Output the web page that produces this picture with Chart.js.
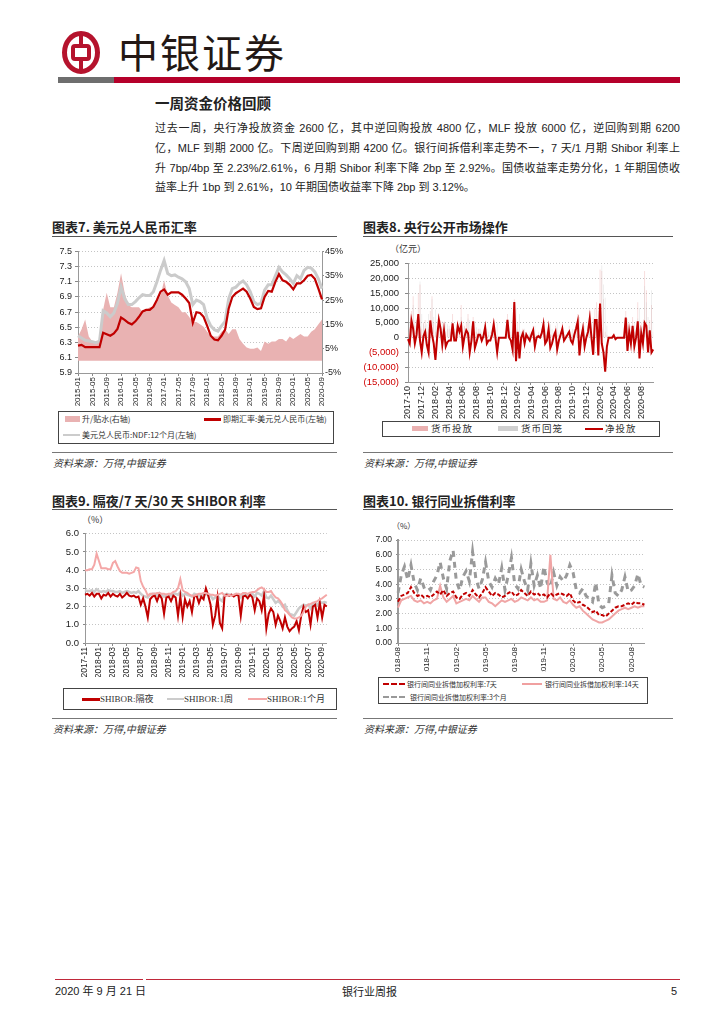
<!DOCTYPE html>
<html lang="zh-CN">
<head>
<meta charset="utf-8">
<script src="https://cdn.jsdelivr.net/npm/chart.js@4.4.0/dist/chart.umd.min.js"></script>
<style>
html, body { margin: 0; padding: 0; background: #fff; }
#page { position: relative; width: 724px; height: 1024px; overflow: hidden; font-family: "Noto Sans CJK SC", sans-serif; color: #222; }
#page div, #page span, #page canvas, #page svg { position: absolute; }
.title { font-size: 13px; font-weight: 700; white-space: nowrap; line-height: 16px; }
.rule { height: 0; border-top: 1px solid #555; }
.src { font-size: 10px; font-style: italic; color: #333; white-space: nowrap; line-height: 12px; }
.legend { border: 1px solid #444; box-sizing: border-box; }
.li { white-space: nowrap; font-size: 8px; line-height: 10px; color: #333; }
.unit { font-size: 9px; color: #333; white-space: nowrap; line-height: 11px; }
#para div { position: absolute; left: 0; width: 525px; height: 20px; line-height: 20px; font-size: 11px; text-align: justify; text-align-last: justify; font-family: "Liberation Sans", "Noto Sans CJK SC", sans-serif; overflow: visible; }
</style>
</head>
<body>
<div id="page">
  <!-- header -->
  <svg style="left:62px;top:31px" width="38" height="43" viewBox="0 0 38 43">
    <ellipse cx="19" cy="21.5" rx="16.5" ry="19" fill="none" stroke="#b5132d" stroke-width="5"/>
    <rect x="17" y="2" width="4" height="39" fill="#b5132d"/>
    <rect x="11" y="15" width="16" height="13" rx="2" fill="#fff" stroke="#b5132d" stroke-width="4"/>
  </svg>
  <div style="left:118px;top:27px;font-size:40px;line-height:48px;letter-spacing:2px;color:#231815;white-space:nowrap;">中银证券</div>
  <div style="left:58px;top:77px;width:56px;height:6px;background:#6e6e6e;"></div>
  <div style="left:114px;top:77px;width:566px;height:6px;background:#b5002a;"></div>

  <div style="left:155px;top:94px;font-size:14.5px;font-weight:700;line-height:18px;white-space:nowrap;">一周资金价格回顾</div>
  <div id="para" style="left:155px;top:118px;width:525px;height:80px;">
    <div style="top:0px">过去一周，央行净投放资金 2600 亿，其中逆回购投放 4800 亿，MLF 投放 6000 亿，逆回购到期 6200</div>
    <div style="top:20px">亿，MLF 到期 2000 亿。下周逆回购到期 4200 亿。银行间拆借利率走势不一，7 天/1 月期 Shibor 利率上</div>
    <div style="top:40px">升 7bp/4bp 至 2.23%/2.61%，6 月期 Shibor 利率下降 2bp 至 2.92%。国债收益率走势分化，1 年期国债收</div>
    <div style="top:59px;text-align-last:left;">益率上升 1bp 到 2.61%，10 年期国债收益率下降 2bp 到 3.12%。</div>
  </div>

  <!-- chart 7 -->
  <div class="title" style="left:52px;top:219px;">图表7. 美元兑人民币汇率</div>
  <div class="rule" style="left:52px;top:236px;width:285px;"></div>
  <canvas id="c7" width="297" height="166" style="left:48px;top:243px;"></canvas>
  <div class="legend" style="left:58px;top:411px;width:276px;height:33px;"></div>
  <div style="left:65px;top:416px;width:15px;height:6px;background:#e9b2b2;"></div>
  <div class="li" style="left:82px;top:414px;">升/贴水(右轴)</div>
  <div style="left:204px;top:418px;width:17px;height:3px;background:#c00000;"></div>
  <div class="li" style="left:223px;top:414px;">即期汇率:美元兑人民币(左轴)</div>
  <div style="left:63px;top:434px;width:17px;height:2px;background:#cccccc;"></div>
  <div class="li" style="left:82px;top:430px;">美元兑人民币:NDF:12个月(左轴)</div>
  <div class="rule" style="left:52px;top:452px;width:285px;border-color:#777;"></div>
  <div class="src" style="left:53px;top:457px;">资料来源：万得,中银证券</div>

  <!-- chart 8 -->
  <div class="title" style="left:363px;top:219px;">图表8. 央行公开市场操作</div>
  <div class="rule" style="left:363px;top:236px;width:310px;"></div>
  <div class="unit" style="left:390px;top:243px;">（亿元）</div>
  <canvas id="c8" width="307" height="167" style="left:358px;top:252px;"></canvas>
  <div class="legend" style="left:382px;top:421px;width:278px;height:16px;"></div>
  <div style="left:412px;top:426px;width:16px;height:5px;background:#eab0b0;"></div>
  <div class="li" style="left:431px;top:423px;font-size:9.5px;line-height:11px;letter-spacing:1px;">货币投放</div>
  <div style="left:498px;top:426px;width:20px;height:5px;background:#cfcfcf;"></div>
  <div class="li" style="left:521px;top:423px;font-size:9.5px;line-height:11px;letter-spacing:1px;">货币回笼</div>
  <div style="left:585px;top:428px;width:18px;height:2px;background:#c00000;"></div>
  <div class="li" style="left:605px;top:423px;font-size:9.5px;line-height:11px;letter-spacing:1px;">净投放</div>
  <div class="rule" style="left:363px;top:452px;width:310px;border-color:#777;"></div>
  <div class="src" style="left:364px;top:457px;">资料来源：万得,中银证券</div>

  <!-- chart 9 -->
  <div class="title" style="left:52px;top:493px;">图表9. 隔夜/7 天/30 天 SHIBOR 利率</div>
  <div class="rule" style="left:52px;top:509px;width:285px;"></div>
  <div class="unit" style="left:82px;top:514px;">（%）</div>
  <canvas id="c9" width="290" height="153" style="left:48px;top:524px;"></canvas>
  <div class="legend" style="left:63px;top:688px;width:274px;height:22px;"></div>
  <div style="left:82px;top:698px;width:18px;height:3px;background:#c00000;"></div>
  <div class="li" style="left:100px;top:694px;font-size:9px;font-family:'Liberation Serif','Noto Sans CJK SC',serif;">SHIBOR:隔夜</div>
  <div style="left:167px;top:698px;width:17px;height:2px;background:#cccccc;"></div>
  <div class="li" style="left:184px;top:694px;font-size:9px;font-family:'Liberation Serif','Noto Sans CJK SC',serif;">SHIBOR:1周</div>
  <div style="left:248px;top:698px;width:19px;height:2px;background:#f4a7a7;"></div>
  <div class="li" style="left:267px;top:694px;font-size:9px;font-family:'Liberation Serif','Noto Sans CJK SC',serif;">SHIBOR:1个月</div>
  <div class="rule" style="left:52px;top:718px;width:285px;border-color:#777;"></div>
  <div class="src" style="left:53px;top:723px;">资料来源：万得,中银证券</div>

  <!-- chart 10 -->
  <div class="title" style="left:363px;top:493px;">图表10. 银行同业拆借利率</div>
  <div class="rule" style="left:363px;top:509px;width:310px;"></div>
  <div class="unit" style="left:392px;top:520px;font-size:8px;">（%）</div>
  <canvas id="c10" width="297" height="141" style="left:358px;top:531px;"></canvas>
  <div class="legend" style="left:378px;top:677px;width:270px;height:27px;"></div>
  <div style="left:383px;top:683px;width:22px;height:0;border-top:2px dashed #c00000;"></div>
  <div class="li" style="left:407px;top:679px;font-size:7px;">银行间同业拆借加权利率:7天</div>
  <div style="left:522px;top:683px;width:20px;height:1.5px;background:#f0a0a0;"></div>
  <div class="li" style="left:545px;top:679px;font-size:7px;">银行间同业拆借加权利率:14天</div>
  <div style="left:383px;top:696px;width:22px;height:0;border-top:2px dashed #999;"></div>
  <div class="li" style="left:410px;top:692px;font-size:7px;">银行间同业拆借加权利率:3个月</div>
  <div class="rule" style="left:363px;top:718px;width:310px;border-color:#777;"></div>
  <div class="src" style="left:364px;top:723px;">资料来源：万得,中银证券</div>

  <!-- footer -->
  <div style="left:55px;top:979px;width:88px;height:1px;background:#c0283a;"></div>
  <div style="left:146px;top:979px;width:534px;height:1px;background:#c0283a;"></div>
  <div style="left:55px;top:984px;font-size:11px;line-height:14px;white-space:nowrap;font-family:'Liberation Sans','Noto Sans CJK SC',sans-serif;">2020 年 9 月 21 日</div>
  <div style="left:342px;top:984px;font-size:11px;line-height:14px;white-space:nowrap;">银行业周报</div>
  <div style="left:671px;top:984px;font-size:11px;line-height:14px;font-family:'Liberation Sans',sans-serif;">5</div>
</div>

<script>
const NUM = '"Liberation Sans Narrow","Arial Narrow","Liberation Sans",sans-serif';
const RED = '#c00000';

// 图表7: monthly, 2015-01 .. 2020-09
const fxTicks = ['2015-01','2015-05','2015-09','2016-01','2016-05','2016-09','2017-01','2017-05','2017-09',
  '2018-01','2018-05','2018-09','2019-01','2019-05','2019-09','2020-01','2020-05','2020-09'];
const fxSpot = [6.26,6.27,6.24,6.24,6.24,6.24,6.24,6.43,6.41,6.39,6.42,6.48,
  6.63,6.60,6.56,6.54,6.58,6.64,6.71,6.73,6.73,6.77,6.86,6.97,
  7.00,6.93,6.96,6.96,6.96,6.93,6.88,6.82,6.56,6.70,6.69,6.64,
  6.52,6.39,6.34,6.33,6.39,6.47,6.75,6.90,6.95,6.98,7.01,6.97,
  6.88,6.77,6.74,6.75,6.90,6.98,6.97,7.10,7.20,7.12,7.10,7.06,
  7.00,7.08,7.08,7.12,7.18,7.19,7.14,7.01,6.87];
const fxNdf = [6.39,6.36,6.33,6.32,6.31,6.30,6.32,6.72,6.69,6.64,6.69,6.82,
  7.03,6.88,6.80,6.80,6.84,6.89,6.93,6.92,6.92,6.97,7.10,7.25,
  7.38,7.21,7.18,7.19,7.16,7.14,7.10,7.01,6.80,6.86,6.84,6.80,
  6.62,6.52,6.47,6.45,6.52,6.58,6.88,7.01,7.03,7.08,7.11,7.06,
  6.97,6.84,6.80,6.82,6.99,7.06,7.06,7.18,7.29,7.23,7.19,7.14,
  7.08,7.18,7.14,7.25,7.29,7.28,7.23,7.14,7.01];
const fxSwap = [10,13,17,10,8,8,7.5,21,28,22,22,28,
  36,28,23,22,22,22,20,21,22,22,24,27,
  33,27,24,23,22,20,20,18,16,16,15,14,
  12,10,10,10,12,13,11,13,13,9,7,5.5,
  5,5,5.5,4,8,7,8,8,9,9,8,10,
  9,10,11,10,10,12,13,15,17];

// 图表8: weekly slots (4 per month), 2017-10 .. 2020-09
const omoTicks = ['2017-10','2017-12','2018-02','2018-04','2018-06','2018-08','2018-10','2018-12','2019-02',
  '2019-04','2019-06','2019-08','2019-10','2019-12','2020-02','2020-04','2020-06','2020-08'];
const omoNet = [
  -500,-2000,5800,3000, -2000,1000,8000,-1000, -5000,500,2000,-2500,
  -5000,5800,1000,-2000, -7500,0,6000,3000, -2500,2500,-3000,-1500,
  -1000,-1000,4800,-1000, -1000,4000,2000,4000, -3000,500,2500,1500,
  -5000,-1000,5500,-3500, -1500,1000,1000,-1000, 500,3500,-2000,-1000,
  -1000,1000,4500,0, -5000,0,0,0, 0,0,6000,0,
  -1000,-4000,12000,-8000, 2000,-7000,0,1500, -2000,1000,0,-1000,
  1000,2500,-3000,0, 500,0,1500,4500, -2000,-1000,3000,-3500,
  -2000,500,2000,-4000, -1000,1000,3000,-1000, 0,1000,2000,-1000,
  -2000,1000,3000,5500, -6000,0,3000,-3000, 0,2000,6500,0,
  -5800,6000,6000,-6000, 11500,-2000,-5000,-11500, -3000,0,0,0,
  800,-500,0,0, 0,0,0,6800, -4500,2000,-2000,4000,
  -3000,0,5500,-7000, 1500,-2000,5000,4000, -5000,2500,-5000,-4000];
const omoInj = [
  2000,3000,9000,14000, 4000,6000,15000,18000, 3000,5000,6000,2000,
  3000,9000,14000,5000, 2000,4000,8000,6000, 3000,5000,2000,3000,
  3000,2000,8000,2000, 2000,6000,5000,11000, 2000,4000,5000,8000,
  1000,3000,7000,2000, 2000,3000,3000,1000, 2000,5000,1000,1000,
  1000,2000,6000,1000, 0,0,0,0, 0,0,8000,2000,
  1000,2000,13000,2000, 5000,1000,2000,3000, 1000,2000,1000,1000,
  2000,4000,1000,1000, 2000,1000,3000,7000, 1000,1000,5000,1000,
  1000,2000,4000,1000, 1000,2000,5000,1000, 1000,2000,4000,1000,
  1000,3000,5000,8000, 1000,1000,5000,1000, 1000,4000,9000,2000,
  1000,10000,12000,3000, 23000,22500,13000,2000, 1000,0,0,0,
  1000,0,0,0, 0,0,0,9000, 2000,5000,2000,7000,
  2000,1000,12000,3000, 5000,2000,22500,16000, 2000,6000,11000,2000];
const omoWd = [
  2500,5000,3200,11000, 6000,5000,7000,19000, 8000,4500,4000,4500,
  8000,3200,13000,7000, 9500,4000,2000,3000, 5500,2500,5000,4500,
  4000,3000,3200,3000, 3000,2000,3000,7000, 5000,3500,2500,6500,
  6000,4000,1500,5500, 3500,2000,2000,2000, 1500,1500,3000,2000,
  2000,1000,1500,1000, 5000,0,0,0, 0,0,2000,2000,
  2000,6000,1000,10000, 3000,8000,2000,1500, 3000,1000,1000,2000,
  1000,1500,4000,1000, 1500,1000,1500,2500, 3000,2000,2000,4500,
  3000,1500,2000,5000, 2000,1000,2000,2000, 1000,1000,2000,2000,
  3000,2000,2000,2500, 7000,1000,2000,4000, 1000,2000,2500,2000,
  6800,4000,6000,9000, 11500,24500,18000,13500, 4000,0,0,0,
  200,500,0,0, 0,0,0,2200, 6500,3000,4000,3000,
  5000,1000,6500,10000, 3500,4000,17500,12000, 7000,3500,16000,6000];

// 图表9: 3 points per month, 2017-11 .. 2020-09
const shibTicks = ['2017-11','2018-01','2018-03','2018-05','2018-07','2018-09','2018-11','2019-01','2019-03',
  '2019-05','2019-07','2019-09','2019-11','2020-01','2020-03','2020-05','2020-07','2020-09'];
const shibOn = [
  2.65,2.70,2.60, 2.75,2.55,2.70, 2.70,2.45,2.65, 2.60,2.75,2.55, 2.70,2.60,2.55, 2.70,2.50,2.60,
  2.75,2.60,2.55, 2.60,2.50,2.55, 2.10,2.45,2.00, 1.40,2.40,2.55, 2.60,2.30,2.65, 2.45,1.60,2.50,
  2.55,2.30,2.60, 2.50,1.50,2.55, 1.45,2.40,2.00, 2.30,1.70,2.55, 2.60,2.20,2.55, 2.40,3.00,2.60,
  2.10,1.00,1.50, 2.50,1.10,0.80, 2.55,2.65,2.60, 2.65,2.55,2.65, 2.60,1.50,2.55, 2.60,2.45,2.65,
  2.50,1.80,2.45, 2.30,1.80,2.60, 0.80,1.60,1.90, 1.70,1.00,1.50, 1.20,0.80,1.40, 0.90,0.65,0.80,
  0.90,1.20,0.70, 1.50,2.00,1.70, 1.80,1.00,2.00, 2.10,1.40,2.20, 1.40,2.10,2.00];
const shib1W = [
  2.90,2.85,2.85, 2.90,2.80,2.95, 2.85,2.80,2.85, 2.80,2.90,2.85, 2.85,2.80,2.80, 2.85,2.75,2.80,
  2.85,2.80,2.75, 2.80,2.75,2.85, 2.70,2.60,2.55, 2.50,2.65,2.70, 2.70,2.60,2.75, 2.65,2.55,2.65,
  2.65,2.60,2.70, 2.70,2.65,2.80, 2.60,2.70,2.65, 2.60,2.55,2.70, 2.65,2.60,2.65, 2.60,2.70,2.65,
  2.60,2.40,2.50, 2.60,2.40,2.30, 2.65,2.70,2.65, 2.65,2.60,2.70, 2.65,2.50,2.70, 2.70,2.65,2.75,
  2.70,2.55,2.75, 2.70,2.60,2.85, 2.50,2.45,2.60, 2.40,2.20,2.30, 2.20,2.00,2.10, 1.80,1.60,1.55,
  1.50,1.70,1.90, 2.00,2.10,2.05, 2.10,1.90,2.20, 2.20,2.10,2.25, 2.20,2.25,2.20];
const shib1M = [
  4.00,4.00,4.05, 4.05,4.30,4.90, 4.50,4.10,4.10, 4.10,4.05,4.05, 4.40,4.50,4.20, 3.95,3.85,3.85,
  3.85,3.80,3.85, 3.90,4.15,4.10, 3.40,3.10,2.90, 2.60,2.70,2.70, 2.70,2.75,2.75, 2.70,2.70,2.65,
  2.70,2.70,2.80, 2.85,3.00,3.50, 2.90,2.80,2.75, 2.65,2.60,2.60, 2.65,2.70,2.70, 2.75,2.75,2.70,
  2.65,2.65,2.60, 2.65,2.70,2.75, 2.60,2.60,2.65, 2.60,2.65,2.70, 2.70,2.65,2.75, 2.75,2.70,2.75,
  2.80,2.80,2.90, 3.00,3.05,2.95, 2.80,2.80,2.85, 2.65,2.50,2.45, 2.30,2.10,1.80, 1.70,1.55,1.40,
  1.35,1.35,1.40, 1.50,1.70,2.00, 2.10,2.15,2.20, 2.25,2.30,2.40, 2.45,2.55,2.65];

// 图表10: 3 points per month, 2018-08 .. 2020-09
const ibTicks = ['2018-08','2018-11','2019-02','2019-05','2019-08','2019-11','2020-02','2020-05','2020-08'];
const ib7D = [
  2.80,3.20,3.30, 3.40,3.80,3.40, 3.20,3.30,3.10, 3.20,3.10,3.30, 3.50,3.30,3.60, 3.20,3.40,3.50,
  3.10,3.00,3.30, 3.40,3.20,3.60, 3.30,3.10,3.40, 3.80,3.50,3.20, 3.40,3.30,3.10, 3.20,3.40,3.50,
  3.20,3.30,3.60, 3.40,3.20,3.50, 3.30,3.40,3.20, 3.30,3.10,3.40, 3.20,3.30,3.40, 3.30,3.20,3.40,
  2.90,2.70,2.80, 2.60,2.50,2.30, 2.10,2.20,1.90, 1.90,1.80,2.00, 2.20,2.40,2.50, 2.50,2.60,2.70,
  2.60,2.80,2.70, 2.70,2.60];
const ib14D = [
  2.40,2.90,3.00, 3.10,3.20,2.90, 2.80,2.90,2.70, 2.80,2.70,2.90, 3.00,3.90,3.10, 2.80,3.00,3.20,
  2.70,2.80,2.90, 3.00,2.90,3.20, 3.00,2.80,3.10, 3.10,2.80,2.70, 2.50,2.70,2.90, 2.80,2.90,3.00,
  2.80,2.90,3.10, 3.00,2.90,3.10, 2.90,3.00,2.80, 2.80,2.90,6.00, 3.00,2.90,3.10, 2.80,2.70,2.90,
  2.60,2.40,2.50, 2.20,2.00,1.80, 1.60,1.50,1.40, 1.40,1.50,1.60, 1.80,2.00,2.20, 2.30,2.40,2.30,
  2.40,2.50,2.40, 2.50,2.50];
const ib3M = [
  3.40,4.60,5.20, 4.30,5.30,4.10, 3.60,4.40,3.80, 3.90,3.60,4.20, 4.60,5.50,4.40, 3.70,5.60,6.30,
  4.20,3.60,4.50, 4.90,4.20,6.20, 4.40,3.70,4.30, 5.50,4.20,3.80, 4.40,4.00,5.10, 3.60,4.60,5.80,
  4.00,3.70,5.00, 4.20,3.60,5.40, 3.90,4.60,3.70, 5.20,4.10,3.80, 4.80,3.90,4.50, 4.20,4.60,5.30,
  4.80,3.60,3.40, 3.70,3.20,3.00, 2.80,4.10,2.60, 2.40,2.50,2.70, 4.60,3.40,3.20, 3.60,4.50,3.50,
  3.60,3.90,4.70, 3.90,3.80];

// month label helpers
function monthSeq(start, n) {
  const [y0, m0] = start.split('-').map(Number);
  const out = [];
  for (let i = 0; i < n; i++) {
    const t = y0 * 12 + (m0 - 1) + i;
    out.push(Math.floor(t / 12) + '-' + String(t % 12 + 1).padStart(2, '0'));
  }
  return out;
}
function slotLabels(start, perMonth, n) {
  const months = monthSeq(start, Math.ceil(n / perMonth));
  return [...Array(n).keys()].map(i => months[Math.floor(i / perMonth)]);
}
function shownFlags(labels, perMonth, ticks) {
  return labels.map((l, i) => i % perMonth === 0 && ticks.includes(l));
}

Chart.defaults.animation = false;
Chart.defaults.responsive = false;
Chart.defaults.devicePixelRatio = 1;
Chart.defaults.font.family = NUM;
Chart.defaults.color = '#222';
Chart.defaults.plugins.legend.display = false;
Chart.defaults.plugins.tooltip.enabled = false;
Chart.defaults.elements.point.radius = 0;
Chart.defaults.elements.line.tension = 0;

function xAxis(labels, shown, h, size) {
  return {
    type: 'category', offset: false,
    grid: { drawOnChartArea: false, tickLength: 3, color: c => shown[c.index] ? '#888' : 'rgba(0,0,0,0)' },
    border: { color: '#999' },
    ticks: { autoSkip: false, maxRotation: 90, minRotation: 90, padding: 1, color: '#222', font: { size: size },
      callback: (v, i) => shown[i] ? labels[i] : '' },
    afterFit: s => { s.height = h; }
  };
}

// 图表7
const fxLabels = slotLabels('2015-01', 1, fxSpot.length);
new Chart('c7', {
  type: 'line',
  data: {
    labels: fxLabels,
    datasets: [
      { label: '即期汇率:美元兑人民币(左轴)', data: fxSpot, yAxisID: 'y', borderColor: RED, borderWidth: 2.2, order: 0 },
      { label: '美元兑人民币:NDF:12个月(左轴)', data: fxNdf, yAxisID: 'y', borderColor: '#cbcbcb', borderWidth: 3, order: 1 },
      { label: '升/贴水(右轴)', data: fxSwap, yAxisID: 'y1', borderWidth: 0, borderColor: 'rgba(0,0,0,0)',
        backgroundColor: '#e9b2b2', fill: 'origin', order: 2 }
    ]
  },
  options: {
    layout: { padding: { top: 6, left: 0, right: 0, bottom: 0 } },
    scales: {
      x: xAxis(fxLabels, shownFlags(fxLabels, 1, fxTicks), 36, 8),
      y: { position: 'left', min: 5.9, max: 7.5,
        ticks: { stepSize: 0.2, font: { size: 9 }, padding: 3, callback: v => v.toFixed(1) },
        grid: { color: '#c4c4c4', tickLength: 3, tickColor: '#888' }, border: { dash: [1, 2], color: '#999' },
        afterFit: s => { s.width = 30; } },
      y1: { position: 'right', min: -5, max: 45,
        ticks: { stepSize: 5, font: { size: 9 }, padding: 1, callback: v => v + '%' },
        grid: { drawOnChartArea: false, tickLength: 2, color: '#888' }, border: { color: '#999' },
        afterFit: s => { s.width = 23; } }
    }
  }
});

// 图表8
const omoLabels = slotLabels('2017-10', 4, omoNet.length);
new Chart('c8', {
  type: 'bar',
  data: {
    labels: omoLabels,
    datasets: [
      { type: 'line', label: '净投放', data: omoNet, borderColor: RED, borderWidth: 2, order: 0 },
      { label: '货币回笼', data: omoWd, backgroundColor: 'rgba(200,200,200,0.35)', order: 1,
        grouped: false, barPercentage: 0.5, categoryPercentage: 1 },
      { label: '货币投放', data: omoInj, backgroundColor: 'rgba(235,160,160,0.4)', order: 2,
        grouped: false, barPercentage: 0.5, categoryPercentage: 1 }
    ]
  },
  options: {
    layout: { padding: { top: 8, left: 0, right: 5, bottom: 0 } },
    scales: {
      x: xAxis(omoLabels, shownFlags(omoLabels, 4, omoTicks), 37, 9),
      y: { min: -15000, max: 25000,
        ticks: { stepSize: 5000, font: { size: 9.5 }, padding: 6,
          color: c => (c.tick && c.tick.value < 0) ? '#d00000' : '#222',
          callback: v => v < 0 ? '(' + Math.abs(v).toLocaleString('en-US') + ')' : v.toLocaleString('en-US') },
        grid: { color: '#c4c4c4', tickLength: 3, tickColor: '#888' }, border: { dash: [1, 2], color: '#999' },
        afterFit: s => { s.width = 50; } }
    }
  }
});

// 图表9
const shibLabels = slotLabels('2017-11', 3, shibOn.length);
new Chart('c9', {
  type: 'line',
  data: {
    labels: shibLabels,
    datasets: [
      { label: 'SHIBOR:1个月', data: shib1M, borderColor: '#f4a7a7', borderWidth: 2, order: 0 },
      { label: 'SHIBOR:隔夜', data: shibOn, borderColor: RED, borderWidth: 2, order: 1 },
      { label: 'SHIBOR:1周', data: shib1W, borderColor: '#cbcbcb', borderWidth: 2.5, order: 2 }
    ]
  },
  options: {
    layout: { padding: { top: 6, left: 0, right: 5, bottom: 0 } },
    scales: {
      x: xAxis(shibLabels, shownFlags(shibLabels, 3, shibTicks), 34, 8.5),
      y: { min: 0, max: 6,
        ticks: { stepSize: 1, font: { size: 9.5 }, padding: 4, callback: v => v.toFixed(1) },
        grid: { color: '#c4c4c4', tickLength: 2, tickColor: '#888' }, border: { dash: [1, 2], color: '#999' },
        afterFit: s => { s.width = 37; } }
    }
  }
});

// 图表10
const ibLabels = slotLabels('2018-08', 3, ib7D.length);
new Chart('c10', {
  type: 'line',
  data: {
    labels: ibLabels,
    datasets: [
      { label: '银行间同业拆借加权利率:7天', data: ib7D, borderColor: RED, borderWidth: 2, borderDash: [4, 2], order: 0 },
      { label: '银行间同业拆借加权利率:14天', data: ib14D, borderColor: '#f0a5a5', borderWidth: 2, order: 1 },
      { label: '银行间同业拆借加权利率:3个月', data: ib3M, borderColor: '#9a9a9a', borderWidth: 3, borderDash: [6, 5], order: 2 }
    ]
  },
  options: {
    layout: { padding: { top: 6, left: 0, right: 7, bottom: 0 } },
    scales: {
      x: xAxis(ibLabels, shownFlags(ibLabels, 3, ibTicks), 29, 8),
      y: { min: 0, max: 7,
        ticks: { stepSize: 1, font: { size: 8.5 }, padding: 4, callback: v => v.toFixed(2) },
        grid: { color: '#c4c4c4', tickLength: 2, tickColor: '#888' }, border: { dash: [1, 2], color: '#999', width: 2 },
        afterFit: s => { s.width = 40; } }
    }
  }
});
</script>
</body>
</html>
